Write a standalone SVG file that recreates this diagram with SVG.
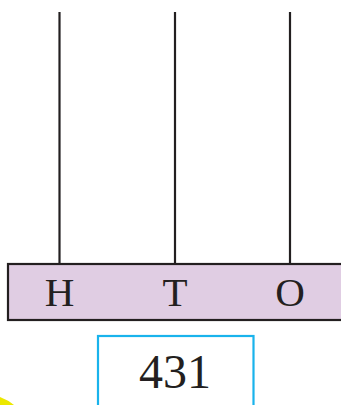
<svg xmlns="http://www.w3.org/2000/svg" width="341" height="405" viewBox="0 0 341 405">
<style>
.rod{stroke:#231f20;stroke-width:2.2;fill:none}
.lbl{font-family:"Liberation Serif",serif;fill:#231f20;text-anchor:middle}
</style>
<rect width="341" height="405" fill="#fff"/>
<path d="M0,397 Q8,400 14,405 L0,405 Z" fill="#ece800"/>
<g id="connectors">
<line class="rod" x1="59.5" y1="12" x2="59.5" y2="264"/>
<line class="rod" x1="175" y1="12" x2="175" y2="264"/>
<line class="rod" x1="290" y1="12" x2="290" y2="264"/>
</g>
<g id="bar">
<rect x="8" y="264" width="340" height="56" fill="#e0cde3" stroke="#231f20" stroke-width="2.2"/>
<text class="lbl" x="59.5" y="306" font-size="41">H</text>
<text class="lbl" x="175" y="306" font-size="41">T</text>
<text class="lbl" x="290" y="306" font-size="41">O</text>
</g>
<g id="number">
<rect x="98" y="336" width="155.5" height="80" fill="#fff" stroke="#19b3ec" stroke-width="2.2"/>
<text class="lbl" x="175" y="388" font-size="48">431</text>
</g>
</svg>
